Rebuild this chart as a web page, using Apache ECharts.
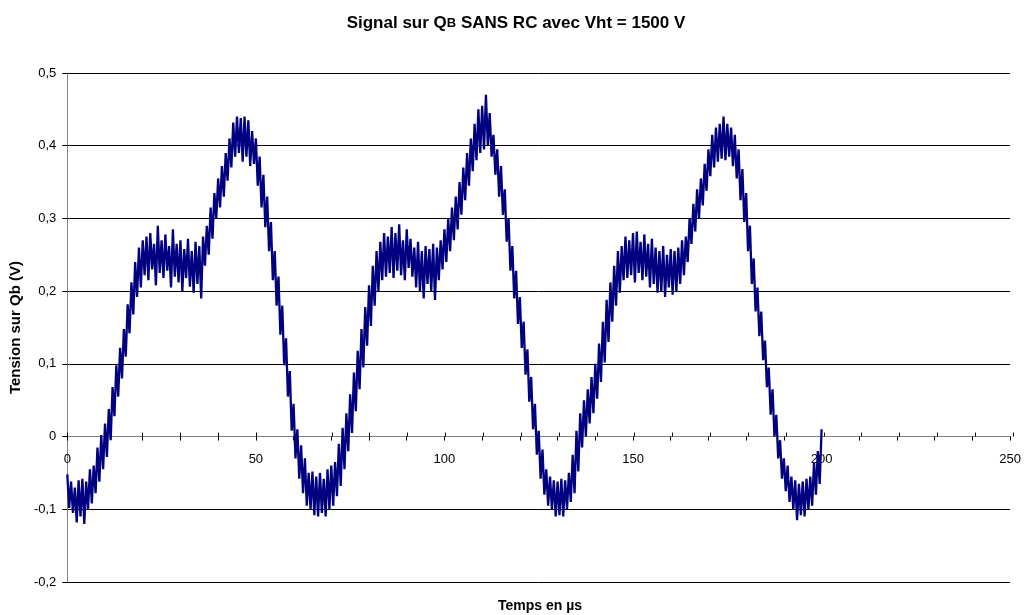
<!DOCTYPE html>
<html>
<head>
<meta charset="utf-8">
<script src="https://cdn.jsdelivr.net/npm/echarts@6/dist/echarts.min.js"></script>
<style>
  html, body { margin: 0; padding: 0; background: #fff; }
  #chart { width: 1024px; height: 615px; }
</style>
</head>
<body>
<div id="chart"></div>
<script>
// Oscilloscope trace of the voltage on Qb (V), sampled every 0.5 µs from 0 to 200 µs
const SAMPLE_STEP_US = 0.5;

const trace0to50 = [
  -0.052, -0.098, -0.062, -0.105, -0.07, -0.118, -0.06, -0.11, -0.058, -0.12,
  -0.062, -0.1, -0.045, -0.092, -0.04, -0.078, -0.015, -0.062, 0.002, -0.045,
  0.018, -0.028, 0.038, -0.005, 0.068, 0.028, 0.098, 0.055, 0.122, 0.08,
  0.148, 0.11, 0.182, 0.142, 0.212, 0.168, 0.24, 0.192, 0.26, 0.205,
  0.27, 0.222, 0.275, 0.215, 0.28, 0.23, 0.265, 0.208, 0.29, 0.225,
  0.27, 0.218, 0.278, 0.228, 0.262, 0.205, 0.285, 0.22, 0.265, 0.212,
  0.27, 0.2, 0.258, 0.218, 0.272, 0.206, 0.255, 0.198, 0.268, 0.21,
  0.262, 0.19, 0.275, 0.235, 0.29, 0.25, 0.315, 0.272, 0.335, 0.3,
  0.355, 0.315, 0.372, 0.33, 0.39, 0.352, 0.41, 0.37, 0.432, 0.385,
  0.44, 0.39, 0.438, 0.378, 0.44, 0.385, 0.435, 0.372, 0.42, 0.375
];

const trace50to100 = [
  0.41, 0.345, 0.385, 0.315, 0.36, 0.288, 0.33, 0.255, 0.295, 0.215,
  0.255, 0.18, 0.22, 0.14, 0.18, 0.098, 0.135, 0.055, 0.09, 0.008,
  0.045, -0.03, 0.01, -0.058, -0.012, -0.078, -0.03, -0.095, -0.05, -0.1,
  -0.048, -0.108, -0.055, -0.11, -0.05, -0.105, -0.058, -0.11, -0.045, -0.1,
  -0.04, -0.095, -0.035, -0.082, -0.01, -0.068, 0.012, -0.045, 0.032, -0.02,
  0.058, 0.005, 0.088, 0.035, 0.118, 0.065, 0.148, 0.095, 0.178, 0.125,
  0.208, 0.152, 0.235, 0.18, 0.255, 0.2, 0.268, 0.215, 0.28, 0.22,
  0.275, 0.225, 0.288, 0.218, 0.28, 0.228, 0.292, 0.222, 0.27, 0.215,
  0.285, 0.232, 0.272, 0.22, 0.26, 0.205, 0.268, 0.2, 0.255, 0.19,
  0.262, 0.21, 0.258, 0.2, 0.265, 0.188, 0.26, 0.215, 0.27, 0.23
];

const trace100to150 = [
  0.285, 0.24, 0.3, 0.255, 0.315, 0.27, 0.33, 0.285, 0.35, 0.305,
  0.37, 0.325, 0.39, 0.345, 0.41, 0.365, 0.43, 0.38, 0.45, 0.39,
  0.455, 0.395, 0.47, 0.4, 0.445, 0.385, 0.415, 0.36, 0.395, 0.33,
  0.372, 0.305, 0.34, 0.268, 0.3, 0.228, 0.262, 0.19, 0.228, 0.155,
  0.192, 0.122, 0.158, 0.085, 0.12, 0.048, 0.082, 0.01, 0.045, -0.025,
  0.008, -0.058, -0.018, -0.08, -0.045, -0.095, -0.055, -0.1, -0.06, -0.11,
  -0.062, -0.108, -0.058, -0.11, -0.06, -0.1, -0.05, -0.09, -0.025, -0.078,
  0.008, -0.048, 0.032, -0.015, 0.05, 0.0, 0.065, 0.018, 0.082, 0.032,
  0.1, 0.052, 0.128, 0.075, 0.158, 0.102, 0.188, 0.13, 0.212, 0.158,
  0.235, 0.18, 0.255, 0.198, 0.262, 0.215, 0.275, 0.218, 0.27, 0.222
];

const trace150to200 = [
  0.28, 0.212, 0.282, 0.225, 0.268, 0.215, 0.278, 0.22, 0.265, 0.205,
  0.272, 0.21, 0.26, 0.198, 0.255, 0.2, 0.262, 0.192, 0.25, 0.205,
  0.258, 0.195, 0.255, 0.2, 0.26, 0.21, 0.27, 0.222, 0.275, 0.24,
  0.3, 0.265, 0.32, 0.282, 0.34, 0.3, 0.355, 0.318, 0.375, 0.338,
  0.395, 0.358, 0.415, 0.37, 0.425, 0.378, 0.43, 0.382, 0.44, 0.38,
  0.43, 0.385, 0.425, 0.372, 0.415, 0.355, 0.395, 0.325, 0.368, 0.295,
  0.335, 0.255, 0.29, 0.21, 0.245, 0.172, 0.205, 0.138, 0.172, 0.105,
  0.132, 0.068, 0.095, 0.03, 0.065, 0.0, 0.03, -0.03, -0.005, -0.058,
  -0.03, -0.075, -0.04, -0.09, -0.055, -0.1, -0.06, -0.115, -0.065, -0.108,
  -0.062, -0.11, -0.058, -0.1, -0.055, -0.095, -0.035, -0.08, -0.02, -0.065,
  0.01
];

// Axis scales
const X_MIN = 0, X_MAX = 250, X_STEP = 50;
const Y_MIN = -0.2, Y_MAX = 0.5, Y_STEP = 0.1;

const samples = [].concat(trace0to50, trace50to100, trace100to150, trace150to200);
const seriesData = samples.map((v, i) => [i * SAMPLE_STEP_US, v]);

const FONT = '"Liberation Sans", Arial, sans-serif';
const commaDecimal = v => String(Math.round(v * 10) / 10).replace('.', ',');

const plotBox = { left: 67, right: 11, top: 73, bottom: 33 };

// Horizontal grid lines are black, except the zero line which carries the grey time axis
const gridLineColors = [];
for (let v = Y_MIN; v <= Y_MAX + 1e-9; v += Y_STEP) {
  gridLineColors.push(Math.abs(v) < 1e-9 ? '#808080' : '#000000');
}

// The time axis sits on the zero line; its labels hang just below it
const zeroOffsetPx = Math.round((0 - Y_MIN) / (Y_MAX - Y_MIN) * (615 - plotBox.top - plotBox.bottom));

const chart = echarts.init(document.getElementById('chart'), null, { renderer: 'canvas' });
chart.setOption({
  animation: false,
  backgroundColor: '#ffffff',
  title: {
    text: '{a|Signal sur Q}{b|B}{a| SANS RC avec Vht = 1500 V}',
    left: 511,
    textAlign: 'center',
    top: 10,
    textStyle: {
      rich: {
        a: { fontFamily: FONT, fontSize: 17, fontWeight: 'bold', color: '#000' },
        b: { fontFamily: FONT, fontSize: 13, fontWeight: 'bold', color: '#000' }
      }
    }
  },
  graphic: [{
    type: 'text',
    x: 540,
    y: 606,
    style: {
      text: 'Temps en µs',
      font: 'bold 14px ' + FONT,
      fill: '#000',
      align: 'center',
      verticalAlign: 'middle'
    }
  }],
  grid: [
    Object.assign({ containLabel: false }, plotBox),
    Object.assign({ containLabel: false }, plotBox)
  ],
  xAxis: [{
    gridIndex: 0,
    type: 'value',
    min: X_MIN, max: X_MAX, interval: X_STEP,
    axisLine: { onZero: true, lineStyle: { color: '#808080', width: 1 } },
    axisTick: { show: true, length: 4, lineStyle: { color: '#000' } },
    minorTick: { show: true, splitNumber: 5, length: 4, lineStyle: { color: '#000' } },
    axisLabel: { fontFamily: FONT, fontSize: 13, color: '#000', margin: 16 - zeroOffsetPx },
    splitLine: { show: false }
  }, {
    // upper half of the crossing tick marks on the zero line
    gridIndex: 1,
    type: 'value',
    min: X_MIN, max: X_MAX, interval: X_STEP,
    axisLine: { show: false, onZero: true },
    axisTick: { show: true, inside: true, length: 4, lineStyle: { color: '#000' } },
    minorTick: { show: true, splitNumber: 5, length: 4, lineStyle: { color: '#000' } },
    axisLabel: { show: false },
    splitLine: { show: false }
  }],
  yAxis: [{
    gridIndex: 0,
    type: 'value',
    min: Y_MIN, max: Y_MAX, interval: Y_STEP,
    name: 'Tension sur Qb (V)',
    nameLocation: 'middle',
    nameGap: 38,
    nameTextStyle: { fontFamily: FONT, fontSize: 15, fontWeight: 'bold', color: '#000' },
    axisLine: { show: true, onZero: false, lineStyle: { color: '#808080', width: 1 } },
    axisTick: { show: true, length: 5, lineStyle: { color: '#000' } },
    axisLabel: { fontFamily: FONT, fontSize: 13, color: '#000', margin: 11, formatter: commaDecimal },
    splitLine: { show: true, lineStyle: { color: gridLineColors, width: 1 } }
  }, {
    gridIndex: 1,
    type: 'value',
    min: Y_MIN, max: Y_MAX, interval: Y_STEP,
    show: false
  }],
  series: [{
    type: 'line',
    xAxisIndex: 0,
    yAxisIndex: 0,
    data: seriesData,
    showSymbol: false,
    symbol: 'none',
    sampling: null,
    lineStyle: { color: '#000080', width: 2.3 },
    z: 5
  }]
});
</script>
</body>
</html>
